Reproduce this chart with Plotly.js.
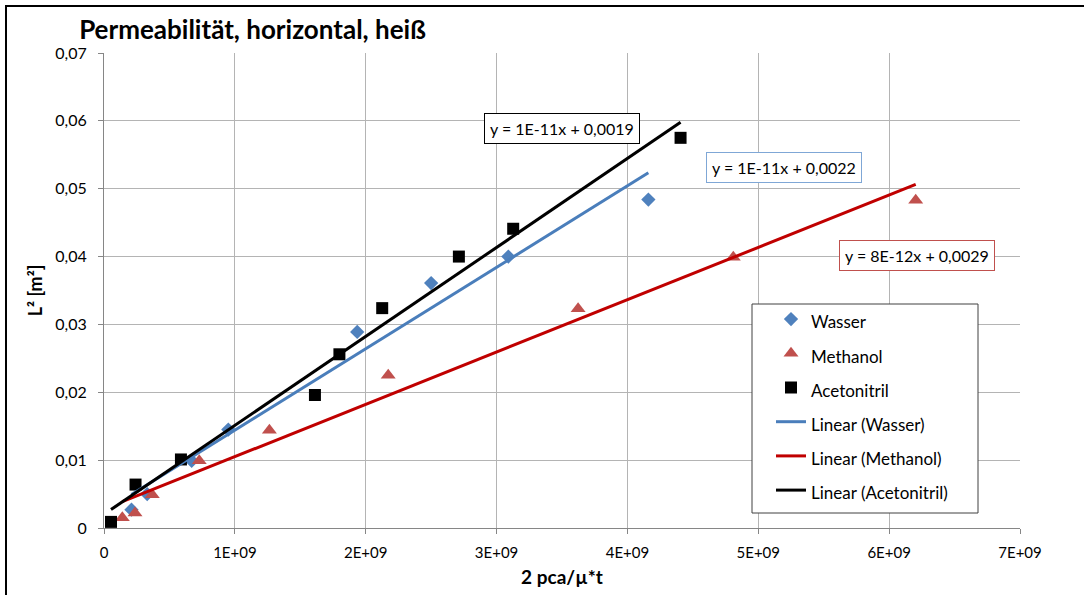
<!DOCTYPE html>
<html>
<head>
<meta charset="utf-8">
<script src="https://cdn.plot.ly/plotly-3.0.1.min.js"></script>
<style>
  html, body { margin: 0; padding: 0; background: #fff; }
  #wrap { position: relative; width: 1084px; height: 595px; overflow: hidden; }
  #chart { width: 1084px; height: 595px; }
  #frame { position: absolute; left: 5px; top: 5px; width: 1200px; height: 800px;
           border-left: 2px solid #000; border-top: 2px solid #000; pointer-events: none; }
</style>
</head>
<body>
<div id="wrap"><div id="chart"></div><div id="frame"></div></div>
<script>
// ---- data ----
const wasserX = [2.1e8, 3.3e8, 6.7e8, 9.5e8, 1.935e9, 2.50e9, 3.09e9, 4.16e9];
const wasserY = [0.0027, 0.0050, 0.0099, 0.0145, 0.0289, 0.0361, 0.0400, 0.0484];

const methanolX = [1.4e8, 2.37e8, 3.69e8, 7.28e8, 1.264e9, 2.172e9, 3.623e9, 4.809e9, 6.203e9];
const methanolY = [0.0015, 0.0022, 0.0049, 0.0099, 0.0144, 0.0225, 0.0323, 0.0399, 0.0483];

const acetoX = [5.35e7, 2.41e8, 5.88e8, 1.612e9, 1.799e9, 2.126e9, 2.712e9, 3.127e9, 4.406e9];
const acetoY = [0.0009, 0.0064, 0.0101, 0.0196, 0.0256, 0.0324, 0.0400, 0.0441, 0.0575];

const seriesNames = ['Wasser', 'Methanol', 'Acetonitril'];
const equations = ['y = 1E-11x + 0,0022', 'y = 8E-12x + 0,0029', 'y = 1E-11x + 0,0019'];

const xTickVals = [0, 1e9, 2e9, 3e9, 4e9, 5e9, 6e9, 7e9];
const xTickText = ['0', '1E+09', '2E+09', '3E+09', '4E+09', '5E+09', '6E+09', '7E+09'];
const yTickVals = [0, 0.01, 0.02, 0.03, 0.04, 0.05, 0.06, 0.07];
const yTickText = ['0', '0,01', '0,02', '0,03', '0,04', '0,05', '0,06', '0,07'];

// ---- linear least-squares trend ----
function trend(xs, ys) {
  const n = xs.length;
  const mx = xs.reduce((a, b) => a + b, 0) / n;
  const my = ys.reduce((a, b) => a + b, 0) / n;
  let sxy = 0, sxx = 0;
  for (let i = 0; i < n; i++) { sxy += (xs[i] - mx) * (ys[i] - my); sxx += (xs[i] - mx) ** 2; }
  const m = sxy / sxx, c = my - m * mx;
  const x0 = Math.min(...xs), x1 = Math.max(...xs);
  return { x: [x0, x1], y: [m * x0 + c, m * x1 + c] };
}

const FONT = 'Lato, "Open Sans", sans-serif';
const blue = '#4F81BD', red = '#C0504D', black = '#000000';
const blueLine = '#4A7EBB', redLine = '#C00000';
const legendName = s => '<span style="font-size:17px">' + s + '</span>';

const tW = trend(wasserX, wasserY);
const tM = trend(methanolX, methanolY);
const tA = trend(acetoX, acetoY);

const data = [
  { type: 'scatter', mode: 'markers', name: legendName(seriesNames[0]), x: wasserX, y: wasserY,
    marker: { symbol: 'diamond', size: 11, color: blue } },
  { type: 'scatter', mode: 'markers', name: legendName(seriesNames[1]), x: methanolX, y: methanolY,
    marker: { symbol: 'triangle-up', size: 13, color: red } },
  { type: 'scatter', mode: 'markers', name: legendName(seriesNames[2]), x: acetoX, y: acetoY,
    marker: { symbol: 'square', size: 12, color: black } },
  { type: 'scatter', mode: 'lines', name: legendName('Linear (' + seriesNames[0] + ')'), x: tW.x, y: tW.y,
    line: { color: blueLine, width: 3 } },
  { type: 'scatter', mode: 'lines', name: legendName('Linear (' + seriesNames[1] + ')'), x: tM.x, y: tM.y,
    line: { color: redLine, width: 3 } },
  { type: 'scatter', mode: 'lines', name: legendName('Linear (' + seriesNames[2] + ')'), x: tA.x, y: tA.y,
    line: { color: black, width: 3 } }
];

const annBase = { xref: 'x', yref: 'y', showarrow: false, bgcolor: '#ffffff', borderwidth: 1,
  borderpad: 5, font: { family: FONT, size: 16, color: '#000' } };

// plot area: x 104..1020, y 53..528 (px)
const PW = 916, PH = 475;
const layout = {
  width: 1084, height: 595,
  margin: { l: 104, r: 64, t: 53, b: 67 },
  paper_bgcolor: '#ffffff', plot_bgcolor: '#ffffff',
  font: { family: FONT, size: 15, color: '#000' },
  title: { text: '<b>Permeabilität, horizontal, heiß</b>', xref: 'container', yref: 'container',
    x: 0.073, xanchor: 'left', y: 0.95, yanchor: 'middle',
    font: { family: FONT, size: 26, color: '#000' } },
  xaxis: {
    range: [0, 7e9], tickvals: xTickVals, ticktext: xTickText,
    showgrid: true, gridcolor: '#b4b4b4', gridwidth: 1,
    showline: true, linecolor: '#868686', linewidth: 1,
    ticks: 'outside', ticklen: 5, tickcolor: '#868686', ticklabelstandoff: 6,
    tickfont: { family: FONT, size: 15, color: '#000' },
    zeroline: false, fixedrange: true,
    title: { text: '<b>2 pca/µ*t</b>', font: { family: FONT, size: 19, color: '#000' }, standoff: 10 }
  },
  yaxis: {
    range: [0, 0.07], tickvals: yTickVals, ticktext: yTickText,
    showgrid: true, gridcolor: '#b4b4b4', gridwidth: 1,
    showline: true, linecolor: '#868686', linewidth: 1,
    ticks: 'outside', ticklen: 5, tickcolor: '#868686', ticklabelstandoff: 8,
    tickfont: { family: FONT, size: 16, color: '#000' },
    zeroline: false, fixedrange: true,
    title: { text: '<b>L² [m²]</b>', font: { family: FONT, size: 18, color: '#000' }, standoff: 8 }
  },
  showlegend: true,
  legend: {
    x: (771 - 104) / PW, xanchor: 'left', y: (528 - 297) / PH, yanchor: 'top',
    bgcolor: 'rgba(0,0,0,0)', borderwidth: 0,
    font: { family: FONT, size: 24, color: '#000' },
    itemwidth: 30, tracegroupgap: 0
  },
  shapes: [
    { type: 'rect', xref: 'paper', yref: 'paper', layer: 'above',
      x0: (752 - 104) / PW, x1: (978 - 104) / PW, y0: (528 - 513) / PH, y1: (528 - 304) / PH,
      fillcolor: '#ffffff', line: { color: '#404040', width: 1 } }
  ],
  annotations: [
    Object.assign({}, annBase, { text: equations[2], x: 3.5e9, y: 0.0589, bordercolor: '#000000' }),
    Object.assign({}, annBase, { text: equations[0], x: 5.2e9, y: 0.0532, bordercolor: '#7FA7D6' }),
    Object.assign({}, annBase, { text: equations[1], x: 6.21e9, y: 0.0401, bordercolor: '#C0504D' })
  ]
};

Plotly.newPlot('chart', data, layout, { staticPlot: true, displayModeBar: false });
</script>
</body>
</html>
